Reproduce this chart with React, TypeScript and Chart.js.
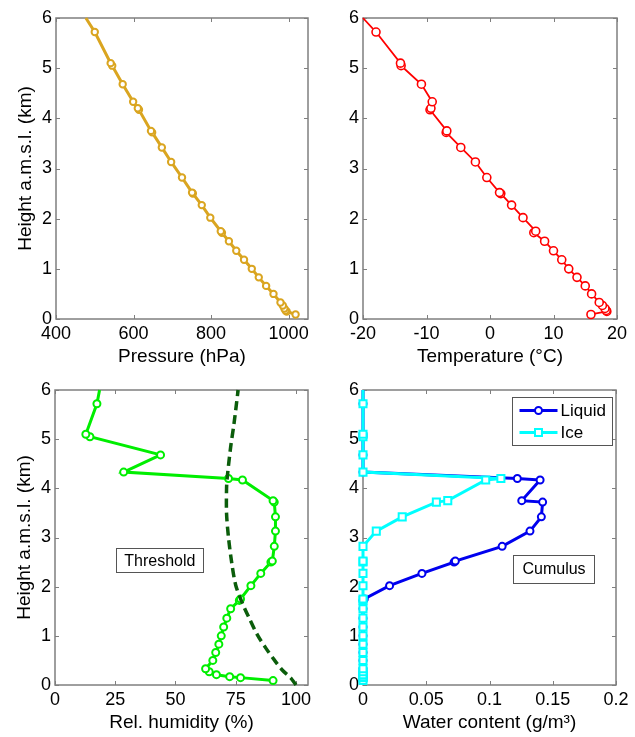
import React, { useEffect, useRef } from "react";
import { Chart, registerables } from "chart.js";

Chart.register(...registerables);

// ---------------- data ----------------
const heights = [0.09, 0.15, 0.17, 0.21, 0.27, 0.33, 0.5, 0.66, 0.83, 1.0, 1.18, 1.36, 1.55, 1.72, 1.75, 2.02, 2.27, 2.5, 2.52, 2.82, 3.13, 3.42, 3.72, 3.75, 4.17, 4.2, 4.33, 4.68, 5.05, 5.1, 5.72, 6.0];
const pressure = [1018, 995, 992, 989, 985, 979, 961, 942, 923, 905, 885, 865, 846, 828, 825, 798, 776, 753, 751, 725, 697, 673, 648, 645, 614, 611, 599, 572, 545, 541, 500, 477];
const temperature = [15.9, 18.4, 18.3, 18.1, 17.7, 17.2, 16.0, 15.0, 13.7, 12.4, 11.3, 10.0, 8.6, 6.9, 7.2, 5.2, 3.4, 1.7, 1.5, -0.5, -2.3, -4.6, -6.9, -6.8, -9.45, -9.3, -9.1, -10.8, -14.0, -14.1, -17.95, -20];
const humidity = [90.5, 77, 72.5, 67, 64, 62.5, 65.5, 66.7, 68, 69, 70, 71.3, 72.9, 76.5, 77, 81.3, 85.4, 89.6, 90.2, 91, 91.5, 91.5, 91, 90.5, 77.8, 72, 28.5, 43.8, 14.5, 12.8, 17.4, 18.5];
const liquid = [0, 0, 0, 0, 0, 0, 0, 0, 0, 0, 0, 0, 0, 0, 0.001, 0.021, 0.0466, 0.072, 0.073, 0.11, 0.132, 0.141, 0.142, 0.1255, 0.14, 0.122, 0, 0, 0, 0, 0, 0];
const ice = [0, 0, 0, 0, 0, 0, 0, 0, 0, 0, 0, 0, 0, 0, 0, 0, 0, 0, 0, 0, 0.0105, 0.031, 0.058, 0.067, 0.097, 0.109, 0, 0, 0, 0, 0, 0];

const thresholdHeights = [0, 0.14, 0.3, 0.51, 0.75, 1.02, 1.36, 1.66, 2.03, 2.5, 3.0, 3.49, 4.0, 4.23, 4.84, 5.32, 6.0];
const thresholdHumidity = [100, 97.9, 94.4, 91, 87.5, 84, 80.6, 77.8, 75, 73.3, 72, 71.2, 71.2, 71.5, 72.9, 74.3, 76];

const heightTicks = [0, 1, 2, 3, 4, 5, 6];
const pressureTicks = [400, 600, 800, 1000];
const temperatureTicks = [-20, -10, 0, 10, 20];
const humidityTicks = [0, 25, 50, 75, 100];
const waterTicks = [0, 0.05, 0.1, 0.15, 0.2];

const seriesLabels = ["Liquid", "Ice"];

// ---------------- styling ----------------
const FONT = "'Liberation Sans', Arial, Helvetica, sans-serif";
const W = 635;
const H = 737;
const Y_AXIS_W = 42;
const X_AXIS_H = 49;

type Box = { left: number; top: number; right: number; bottom: number };

const markerRadius = (r: number) => heights.map((h) => (h >= 6 ? 0 : r));
const pts = (vals: number[]) => heights.map((h, i) => ({ x: vals[i], y: h }));

function xScale(min: number, max: number, ticks: number[], title: string) {
  return {
    type: "linear",
    position: "bottom",
    min,
    max,
    grid: { display: false, drawTicks: false },
    border: { display: false },
    ticks: {
      padding: 4,
      color: "#000",
      maxRotation: 0,
      autoSkip: false,
      font: { family: FONT, size: 18 },
      callback: (v: number) => String(v),
    },
    title: { display: true, text: title, color: "#000", padding: 0, font: { family: FONT, size: 19 } },
    afterBuildTicks: (s: any) => {
      s.ticks = ticks.map((v) => ({ value: v }));
    },
    afterFit: (s: any) => {
      s.height = X_AXIS_H;
    },
  };
}

function yScale(showTitle: boolean) {
  return {
    type: "linear",
    position: "left",
    min: 0,
    max: 6,
    grid: { display: false, drawTicks: false },
    border: { display: false },
    ticks: {
      padding: 4,
      color: "#000",
      autoSkip: false,
      font: { family: FONT, size: 18 },
      callback: (v: number) => String(v),
    },
    title: {
      display: showTitle,
      text: "Height a.m.s.l. (km)",
      color: "#000",
      padding: 0,
      font: { family: FONT, size: 19 },
    },
    afterBuildTicks: (s: any) => {
      s.ticks = heightTicks.map((v) => ({ value: v }));
    },
    afterFit: (s: any) => {
      s.width = Y_AXIS_W;
    },
  };
}

// MATLAB-like box with inward ticks
const matlabAxes = {
  id: "matlabAxes",
  beforeDatasetsDraw(chart: any) {
    const { ctx, chartArea } = chart;
    const { left, right, top, bottom } = chartArea;
    const xs = chart.scales.x;
    const ys = chart.scales.y;
    ctx.save();
    ctx.strokeStyle = "#7f7f7f";
    ctx.lineWidth = 1;
    ctx.beginPath();
    xs.ticks.forEach((t: any) => {
      const p = Math.round(xs.getPixelForValue(t.value)) + 0.5;
      ctx.moveTo(p, bottom);
      ctx.lineTo(p, bottom - 4);
      ctx.moveTo(p, top);
      ctx.lineTo(p, top + 4);
    });
    ys.ticks.forEach((t: any) => {
      const p = Math.round(ys.getPixelForValue(t.value)) + 0.5;
      ctx.moveTo(left, p);
      ctx.lineTo(left + 4, p);
      ctx.moveTo(right, p);
      ctx.lineTo(right - 4, p);
    });
    ctx.stroke();
    ctx.lineWidth = 1.5;
    ctx.strokeRect(left, top, right - left, bottom - top);
    ctx.restore();
  },
};

// annotation text box, positioned in data coordinates
const textBox = {
  id: "textBox",
  afterDatasetsDraw(chart: any, _args: any, opts: any) {
    if (!opts || !opts.text) return;
    const { ctx } = chart;
    const cx = chart.scales.x.getPixelForValue(opts.x);
    const cy = chart.scales.y.getPixelForValue(opts.y);
    ctx.save();
    ctx.font = `16px ${FONT}`;
    const w = ctx.measureText(opts.text).width + opts.padX * 2;
    const h = opts.height;
    ctx.fillStyle = "#fff";
    ctx.fillRect(cx - w / 2, cy - h / 2, w, h);
    ctx.strokeStyle = "#555";
    ctx.lineWidth = 1;
    ctx.strokeRect(Math.round(cx - w / 2) + 0.5, Math.round(cy - h / 2) + 0.5, Math.round(w), Math.round(h));
    ctx.fillStyle = "#000";
    ctx.textAlign = "center";
    ctx.textBaseline = "middle";
    ctx.fillText(opts.text, cx, cy + 1);
    ctx.restore();
  },
};

// MATLAB-like legend in the upper right corner of the axes
const boxLegend = {
  id: "boxLegend",
  afterDatasetsDraw(chart: any, _args: any, opts: any) {
    if (!opts || !opts.show) return;
    const { ctx, chartArea } = chart;
    const bw = 100;
    const bh = 48;
    const bx = Math.round(chartArea.right - 4 - bw) + 0.5;
    const by = Math.round(chartArea.top + 7) + 0.5;
    ctx.save();
    ctx.fillStyle = "#fff";
    ctx.fillRect(bx, by, bw, bh);
    ctx.strokeStyle = "#555";
    ctx.lineWidth = 1;
    ctx.strokeRect(bx, by, bw, bh);
    chart.data.datasets.forEach((ds: any, i: number) => {
      const y = by + 13 + i * 22;
      ctx.strokeStyle = ds.borderColor;
      ctx.lineWidth = ds.borderWidth;
      ctx.beginPath();
      ctx.moveTo(bx + 7, y);
      ctx.lineTo(bx + 45, y);
      ctx.stroke();
      ctx.lineWidth = ds.pointBorderWidth;
      ctx.fillStyle = "#fff";
      ctx.beginPath();
      if (ds.pointStyle === "rect") {
        ctx.rect(bx + 26 - 3.5, y - 3.5, 7, 7);
      } else {
        ctx.arc(bx + 26, y, 3.5, 0, Math.PI * 2);
      }
      ctx.fill();
      ctx.stroke();
      ctx.fillStyle = "#000";
      ctx.font = `17px ${FONT}`;
      ctx.textAlign = "left";
      ctx.textBaseline = "middle";
      ctx.fillText(ds.label, bx + 48, y + 1);
    });
    ctx.restore();
  },
};

function baseOptions(box: Box, x: any, showYTitle: boolean, extraPlugins: any = {}) {
  return {
    responsive: false,
    animation: false,
    devicePixelRatio: 1,
    layout: {
      padding: {
        left: box.left - Y_AXIS_W,
        top: box.top,
        right: W - box.right,
        bottom: H - box.bottom - X_AXIS_H,
      },
    },
    scales: { x, y: yScale(showYTitle) },
    plugins: {
      legend: { display: false },
      tooltip: { enabled: false },
      ...extraPlugins,
    },
  };
}

const profileDataset = (label: string, vals: number[], color: string, lw: number, r: number, bw: number) => ({
  label,
  data: pts(vals),
  showLine: true,
  borderColor: color,
  backgroundColor: color,
  borderWidth: lw,
  pointRadius: markerRadius(r),
  pointBorderWidth: bw,
  pointBorderColor: color,
  pointBackgroundColor: "#fff",
  pointStyle: "circle",
  tension: 0,
  clip: false,
});

const panels: (() => any)[] = [
  () => ({
    type: "scatter",
    data: { datasets: [profileDataset("Pressure", pressure, "#daa520", 3, 3.2, 2)] },
    options: baseOptions({ left: 56, top: 18, right: 308, bottom: 319 }, xScale(400, 1050, pressureTicks, "Pressure (hPa)"), true),
    plugins: [matlabAxes],
  }),
  () => ({
    type: "scatter",
    data: { datasets: [profileDataset("Temperature", temperature, "#ff0000", 1.8, 4, 1.6)] },
    options: baseOptions({ left: 363, top: 18, right: 617, bottom: 319 }, xScale(-20, 20, temperatureTicks, "Temperature (°C)"), false),
    plugins: [matlabAxes],
  }),
  () => ({
    type: "scatter",
    data: {
      datasets: [
        {
          label: "Threshold",
          data: thresholdHeights.map((h, i) => ({ x: thresholdHumidity[i], y: h })),
          showLine: true,
          borderColor: "#0b5d0b",
          borderWidth: 3.5,
          borderDash: [9, 5],
          pointRadius: 0,
          tension: 0.3,
          clip: false,
        },
        profileDataset("Rel. humidity", humidity, "#00ee00", 3, 3.5, 2),
      ],
    },
    options: baseOptions(
      { left: 55, top: 390, right: 308, bottom: 685 },
      xScale(0, 105, humidityTicks, "Rel. humidity (%)"),
      true,
      { textBox: { text: "Threshold", x: 43.5, y: 2.54, padX: 8, height: 24 } }
    ),
    plugins: [matlabAxes, textBox],
  }),
  () => ({
    type: "scatter",
    data: {
      datasets: [
        { ...profileDataset(seriesLabels[0], liquid, "#0000ee", 3, 3.5, 2), order: 1 },
        { ...profileDataset(seriesLabels[1], ice, "#00ffff", 3, 5, 2), pointStyle: "rect", order: 0 },
      ],
    },
    options: baseOptions(
      { left: 363, top: 390, right: 616, bottom: 685 },
      xScale(0, 0.2, waterTicks, "Water content (g/m³)"),
      false,
      {
        textBox: { text: "Cumulus", x: 0.151, y: 2.36, padX: 9, height: 28 },
        boxLegend: { show: true },
      }
    ),
    plugins: [matlabAxes, textBox, boxLegend],
  }),
];

function Panel({ build }: { build: () => any }) {
  const ref = useRef<HTMLCanvasElement>(null);
  useEffect(() => {
    const chart = new Chart(ref.current as HTMLCanvasElement, build());
    return () => chart.destroy();
  }, [build]);
  return (
    <canvas
      ref={ref}
      width={W}
      height={H}
      style={{ position: "absolute", left: 0, top: 0, width: W, height: H }}
    />
  );
}

export default function App() {
  return (
    <div style={{ position: "absolute", left: 0, top: 0, width: W, height: H, background: "#fff", overflow: "hidden" }}>
      {panels.map((p, i) => (
        <Panel key={i} build={p} />
      ))}
    </div>
  );
}
